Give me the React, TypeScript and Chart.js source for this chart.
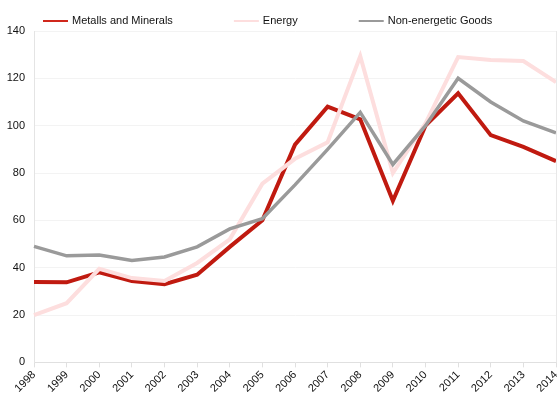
import React, { useEffect, useRef } from "react";
import { Chart, registerables } from "chart.js";

Chart.register(...registerables);

const years = ["1998","1999","2000","2001","2002","2003","2004","2005","2006","2007","2008","2009","2010","2011","2012","2013","2014"];
const metals = [34, 33.8, 38, 34.4, 33, 37, 48.8, 60, 92, 108, 102.7, 68.3, 100, 113.7, 96, 91, 85];
const energy = [20, 25, 39.5, 35.6, 34.4, 42, 52, 75.5, 86, 93, 129.4, 80, 101, 129, 127.7, 127.3, 118.4];
const nonEnergetic = [49, 45, 45.4, 43, 44.5, 48.8, 56.4, 60.7, 75, 90, 105.6, 83.6, 100, 120, 110, 102, 97];
const yTicks = [0, 20, 40, 60, 80, 100, 120, 140];

const FONT_FAMILY = "'Liberation Sans', Arial, sans-serif";

// Single-row legend with short line swatches and wide gaps between entries.
const lineLegend = {
  id: "lineLegend",
  afterDraw(chart: any) {
    const { ctx } = chart;
    const y = 21;
    const swatch = 25;
    const gap = 61;
    let x = 43;
    ctx.save();
    ctx.font = `11px ${FONT_FAMILY}`;
    ctx.textBaseline = "middle";
    chart.data.datasets.forEach((ds: any) => {
      ctx.strokeStyle = ds.legendColor || ds.borderColor;
      ctx.lineWidth = 2;
      ctx.beginPath();
      ctx.moveTo(x, y);
      ctx.lineTo(x + swatch, y);
      ctx.stroke();
      x += swatch + 4;
      ctx.fillStyle = "#111";
      ctx.fillText(ds.label, x, y);
      x += ctx.measureText(ds.label).width + gap;
    });
    ctx.restore();
  },
};

const rightBorder = {
  id: "rightBorder",
  afterDraw(chart: any) {
    const { ctx, chartArea } = chart;
    ctx.save();
    ctx.strokeStyle = "#e8e8e8";
    ctx.lineWidth = 1;
    ctx.beginPath();
    ctx.moveTo(chartArea.right + 0.5, chartArea.top);
    ctx.lineTo(chartArea.right + 0.5, chartArea.bottom);
    ctx.stroke();
    ctx.restore();
  },
};

export default function App() {
  const ref = useRef<HTMLCanvasElement>(null);
  useEffect(() => {
    const font = { family: FONT_FAMILY, size: 11 };
    const chart = new Chart(ref.current!, {
      type: "line",
      data: {
        labels: years,
        datasets: [
          { label: "Metalls and Minerals", data: metals, borderColor: "#c01a10", legendColor: "#d0281c", borderWidth: 4, pointRadius: 0, tension: 0, order: 3 } as any,
          { label: "Energy", data: energy, borderColor: "#fddede", borderWidth: 4, pointRadius: 0, tension: 0, order: 2 },
          { label: "Non-energetic Goods", data: nonEnergetic, borderColor: "#9a9a9a", borderWidth: 3.5, pointRadius: 0, tension: 0, order: 1 },
        ],
      },
      options: {
        responsive: true,
        maintainAspectRatio: false,
        animation: false,
        layout: { padding: { left: 0, right: 2, top: 31, bottom: 1 } },
        plugins: {
          legend: { display: false },
          tooltip: { enabled: false },
        },
        scales: {
          x: {
            afterFit: (scale: any) => { scale.paddingRight = 0; scale.paddingLeft = 0; },
            grid: { display: true, drawOnChartArea: false, tickLength: 5, color: "#e0e0e0" },
            border: { color: "#e0e0e0" },
            ticks: { color: "#111", font, maxRotation: 45, minRotation: 45, autoSkip: false, padding: 1 },
          },
          y: {
            min: 0,
            max: 140,
            afterBuildTicks: (axis: any) => { axis.ticks = yTicks.map((v) => ({ value: v })); },
            afterFit: (scale: any) => { scale.width = 34; },
            grid: { color: "#f3f3f3", drawTicks: false },
            border: { color: "#e4e4e4" },
            ticks: { color: "#111", font, padding: 9 },
          },
        },
      },
      plugins: [rightBorder, lineLegend],
    });
    return () => chart.destroy();
  }, []);
  return (
    <div style={{ position: "absolute", left: 0, top: 0, width: 558, height: 397, background: "#fff" }}>
      <canvas ref={ref} />
    </div>
  );
}
